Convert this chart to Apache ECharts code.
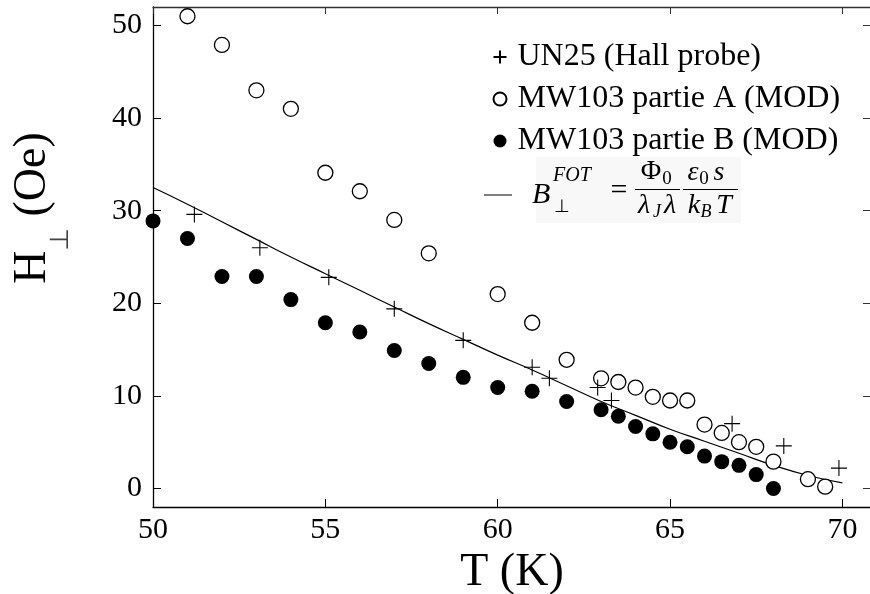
<!DOCTYPE html>
<html>
<head>
<meta charset="utf-8">
<script src="https://cdn.jsdelivr.net/npm/echarts@6/dist/echarts.min.js"></script>
<style>
  html, body { margin: 0; padding: 0; background: #fff; }
  #chart { width: 870px; height: 594px; }
</style>
</head>
<body>
<div id="chart"></div>
<script>
// UN25 (Hall probe)
const tempHall = [51.2, 53.1, 55.1, 57.0, 59.0, 61.0, 61.5, 62.9, 63.3, 66.8, 68.3, 69.9];
const fieldHall = [29.6, 26.0, 22.8, 19.4, 16.0, 13.1, 11.9, 10.9, 9.5, 7.0, 4.6, 2.2];

// MW103 partie A (MOD)
const tempA = [51, 52, 53, 54, 55, 56, 57, 58, 60, 61, 62, 63, 63.5, 64, 64.5, 65, 65.5, 66, 66.5, 67, 67.5, 68, 69, 69.5];
const fieldA = [51.0, 47.9, 43.0, 41.0, 34.1, 32.1, 29.0, 25.4, 21.0, 17.9, 13.9, 11.9, 11.5, 10.9, 9.9, 9.5, 9.5, 6.9, 6.0, 5.0, 4.5, 2.9, 1.0, 0.2];

// MW103 partie B (MOD)
const tempB = [50, 51, 52, 53, 54, 55, 56, 57, 58, 59, 60, 61, 62, 63, 63.5, 64, 64.5, 65, 65.5, 66, 66.5, 67, 67.5, 68];
const fieldB = [28.9, 27.0, 22.9, 22.9, 20.4, 17.9, 16.9, 14.9, 13.5, 12.0, 10.9, 10.5, 9.4, 8.5, 7.8, 6.7, 5.9, 5.0, 4.5, 3.5, 2.9, 2.5, 1.5, 0.0];

// B_perp^FOT curve
const tempFot = [50, 51, 52, 53, 54, 55, 56, 57, 58, 59, 60, 61, 62, 63, 64, 65, 66, 67, 68, 69, 70];
const fieldFot = [32.5, 30.7, 28.8, 26.9, 25.0, 23.2, 21.4, 19.6, 17.8, 16.1, 14.4, 12.8, 11.1, 9.4, 7.9, 6.4, 5.1, 3.8, 2.5, 1.4, 0.6];

const xTicks = [50, 55, 60, 65, 70];
const yTicks = [0, 10, 20, 30, 40, 50];

const names = ['UN25 (Hall probe)', 'MW103 partie A (MOD)', 'MW103 partie B (MOD)'];

const zip = (xs, ys) => xs.map((x, i) => [x, ys[i]]);

const serif = 'Liberation Serif';
const chart = echarts.init(document.getElementById('chart'), null, { renderer: 'canvas' });

const plusPath = 'path://M0,5L10,5M5,0L5,10';

// small helper for the formula pieces in the legend box
function txt(s, x, y, size, italic, align) {
  return {
    type: 'text', x: x, y: y,
    style: {
      text: s, fill: '#000', font: (italic ? 'italic ' : '') + size + 'px "' + serif + '"',
      align: align || 'center', verticalAlign: 'middle'
    }
  };
}
function bar(x1, x2, y) {
  return { type: 'line', shape: { x1: x1, y1: y, x2: x2, y2: y }, style: { stroke: '#000', lineWidth: 1 } };
}

chart.setOption({
  animation: false,
  textStyle: { fontFamily: serif, color: '#000' },
  grid: { left: 153, right: -1, top: 7, bottom: 87, outerBoundsMode: 'none', containLabel: false },
  legend: {
    data: names,
    orient: 'vertical',
    left: 486,
    top: 36,
    itemWidth: 13,
    itemHeight: 13,
    itemGap: 10,
    textStyle: { fontSize: 32, lineHeight: 32, color: '#000', fontFamily: serif, padding: [0, 0, 0, 6] }
  },
  xAxis: [
    {
      type: 'value', min: 50, max: 70.83,
      name: 'T (K)', nameLocation: 'middle', nameGap: 35,
      nameTextStyle: { fontSize: 46, lineHeight: 46, color: '#000' },
      axisLine: { onZero: false, lineStyle: { color: '#000', width: 1.3 } },
      axisTick: { inside: true, length: 8, customValues: xTicks, lineStyle: { color: '#000' } },
      axisLabel: { customValues: xTicks, fontSize: 30, lineHeight: 30, margin: 8, color: '#000' },
      splitLine: { show: false }
    },
    {
      type: 'value', min: 50, max: 70.83, position: 'top',
      axisLine: { show: true, onZero: false, lineStyle: { color: '#333', width: 1.3 } },
      axisTick: { inside: true, length: 7, customValues: xTicks, lineStyle: { color: '#333' } },
      axisLabel: { show: false },
      splitLine: { show: false }
    }
  ],
  yAxis: [
    {
      type: 'value', min: -2, max: 52,
      name: '{h|H}{s|⊥}{h| (Oe)}', nameLocation: 'middle', nameGap: 97,
      nameTextStyle: {
        padding: [0, 0, 0, 98],
        rich: {
          h: { fontSize: 46, lineHeight: 46, fontFamily: serif, color: '#000', verticalAlign: 'top' },
          s: { fontSize: 26, lineHeight: 26, fontFamily: 'DejaVu Sans', color: '#444', verticalAlign: 'top', padding: [38, 0, 0, 0] }
        }
      },
      axisLine: { onZero: false, lineStyle: { color: '#000', width: 1.3 } },
      axisTick: { inside: true, length: 8, customValues: yTicks, lineStyle: { color: '#000' } },
      axisLabel: { customValues: yTicks, fontSize: 30, margin: 11, color: '#000' },
      splitLine: { show: false }
    },
    {
      type: 'value', min: -2, max: 52, position: 'right',
      axisLine: { show: true, onZero: false, lineStyle: { color: '#333' } },
      axisTick: { inside: true, length: 8, customValues: yTicks, lineStyle: { color: '#333' } },
      axisLabel: { show: false },
      splitLine: { show: false }
    }
  ],
  series: [
    {
      name: 'B_FOT', type: 'line', smooth: true, symbol: 'none',
      data: zip(tempFot, fieldFot),
      lineStyle: { color: '#000', width: 1.2 }, z: 1
    },
    {
      name: names[0], type: 'scatter', symbol: plusPath, symbolSize: 16,
      data: zip(tempHall, fieldHall),
      itemStyle: { color: 'none', borderColor: '#000', borderWidth: 1.1, opacity: 1 }, z: 3
    },
    {
      name: names[1], type: 'scatter', symbol: 'circle', symbolSize: 15,
      data: zip(tempA, fieldA),
      itemStyle: { color: '#fff', borderColor: '#000', borderWidth: 1.3, opacity: 1 }, z: 2
    },
    {
      name: names[2], type: 'scatter', symbol: 'circle', symbolSize: 15,
      data: zip(tempB, fieldB),
      itemStyle: { color: '#000', opacity: 1 }, z: 2
    }
  ],
  graphic: [
    { type: 'rect', shape: { x: 536, y: 157, width: 205, height: 66 }, style: { fill: '#f8f8f8' }, z: -1 },
    bar(484, 512, 195),
    txt('B', 532, 195, 30, true, 'left'),
    txt('FOT', 553, 176, 20, true, 'left'),
    txt('⊥', 554, 207, 18, false, 'left'),
    txt('=', 619, 191, 30, false),
    bar(635, 680, 189.5),
    txt('Φ', 651, 172, 28, false),
    txt('0', 667, 179, 19, false),
    txt('λ', 644, 206, 28, true),
    txt('J', 657, 212, 18, true),
    txt('λ', 670, 206, 28, true),
    bar(683, 738, 189.5),
    txt('ε', 693, 173, 28, true),
    txt('0', 704, 179, 19, false),
    txt('s', 719, 173, 28, true),
    txt('k', 694, 206, 28, true),
    txt('B', 706, 212, 18, true),
    txt('T', 724, 206, 28, true)
  ]
});
</script>
</body>
</html>
